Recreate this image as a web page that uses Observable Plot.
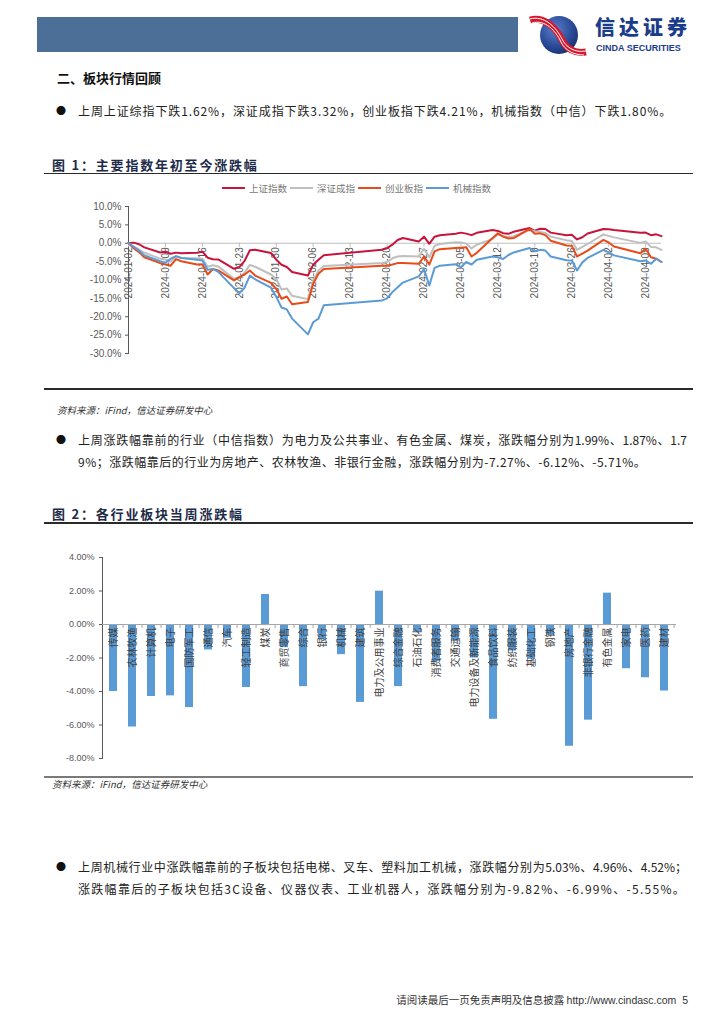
<!DOCTYPE html>
<html lang="zh-CN">
<head>
<meta charset="utf-8">
<script src="https://cdn.jsdelivr.net/npm/d3@7"></script>
<script src="https://cdn.jsdelivr.net/npm/@observablehq/plot@0.6"></script>
<style>
html,body{margin:0;padding:0;background:#fff;}
#page{position:relative;width:724px;height:1024px;overflow:hidden;font-family:"Noto Sans CJK SC","Noto Sans",sans-serif;color:#111;}
.a{position:absolute;white-space:nowrap;}
.body{font-size:12px;line-height:22px;color:#222;}
.bullet{font-size:10px;line-height:22px;color:#111;}
.figt{font-size:13px;line-height:16px;font-weight:700;color:#1d2b48;letter-spacing:1.8px;}
.src{font-size:9.5px;line-height:12px;font-style:italic;color:#333;}
.rule{position:absolute;left:44px;width:649px;height:1.5px;background:#2a2a2a;}
.legend{display:flex;align-items:center;font-size:9.5px;line-height:12px;color:#777;}
.legend .sw{display:inline-block;width:23px;height:2.5px;margin-right:4px;}
.legend .lb{display:inline-block;width:38px;margin-right:3px;}
.just{text-align:justify;text-align-last:justify;}
</style>
</head>
<body>
<div id="page">
  <div class="a" style="left:37px;top:17px;width:481px;height:35px;background:#4b6f97;"></div>
  <svg class="a" style="left:526px;top:14px" width="62" height="42" viewBox="0 0 62 42">
    <defs>
      <radialGradient id="lg" cx="0.4" cy="0.35" r="0.75">
        <stop offset="0" stop-color="#5b7fc8"/><stop offset="0.6" stop-color="#2a4a98"/><stop offset="1" stop-color="#142a66"/>
      </radialGradient>
    </defs>
    <circle cx="33" cy="21" r="19" fill="url(#lg)"/>
    <path d="M4,6 C18,2 30,14 36,26 C40,34 48,40 60,38" fill="none" stroke="#d7192f" stroke-width="7"/>
    <path d="M4,5 C18,1 30,13 36,25 C40,33 48,39 60,37" fill="none" stroke="#fff" stroke-width="1"/>
    <path d="M6,9 C19,5 30,17 35,28 C39,36 47,41 58,41" fill="none" stroke="#fff" stroke-width="1"/>
  </svg>
  <div class="a" style="left:595px;top:15px;font-size:20px;line-height:24px;font-weight:900;color:#1b3c8a;letter-spacing:4px;">信达证券</div>
  <div class="a" style="left:596px;top:43px;font-family:'Liberation Sans',Arial,sans-serif;font-size:9px;line-height:10px;font-weight:700;color:#1b3c8a;">CINDA SECURITIES</div>

  <div class="a" style="left:57px;top:69px;font-size:13px;line-height:18px;font-weight:700;">二、板块行情回顾</div>
  <div class="a bullet" style="left:56px;top:100px;">●</div>
  <div class="a body" style="left:78px;top:100px;letter-spacing:0.9px;">上周上证综指下跌1.62%，深证成指下跌3.32%，创业板指下跌4.21%，机械指数（中信）下跌1.80%。</div>

  <div class="a figt" style="left:52px;top:157px;">图 1：主要指数年初至今涨跌幅</div>
  <div class="rule" style="top:172.5px;"></div>
  <div class="a legend" id="legend1" style="left:222px;top:182px;"></div>
  <div class="a" id="chart1" style="left:44px;top:196px;"></div>
  <div class="rule" style="top:388px;"></div>
  <div class="a src" style="left:57px;top:404px;">资料来源：iFind，信达证券研发中心</div>

  <div class="a bullet" style="left:56px;top:429px;">●</div>
  <div class="a body" style="left:78px;top:429px;white-space:normal;">
    <div class="just" style="width:609px;">上周涨跌幅靠前的行业（中信指数）为电力及公共事业、有色金属、煤炭，涨跌幅分别为1.99%、1.87%、1.7</div>
    <div style="white-space:nowrap;letter-spacing:0.5px;">9%；涨跌幅靠后的行业为房地产、农林牧渔、非银行金融，涨跌幅分别为-7.27%、-6.12%、-5.71%。</div>
  </div>

  <div class="a figt" style="left:52px;top:506px;">图 2：各行业板块当周涨跌幅</div>
  <div class="rule" style="top:522px;"></div>
  <div class="a" id="chart2" style="left:44px;top:540px;"></div>
  <div class="rule" style="top:776px;background:#7a7a7a;"></div>
  <div class="a src" style="left:52px;top:778px;">资料来源：iFind，信达证券研发中心</div>

  <div class="a bullet" style="left:56px;top:856px;">●</div>
  <div class="a body" style="left:78px;top:856px;white-space:normal;">
    <div class="just" style="width:609px;">上周机械行业中涨跌幅靠前的子板块包括电梯、叉车、塑料加工机械，涨跌幅分别为5.03%、4.96%、4.52%；</div>
    <div style="white-space:nowrap;letter-spacing:1.3px;">涨跌幅靠后的子板块包括3C设备、仪器仪表、工业机器人，涨跌幅分别为-9.82%、-6.99%、-5.55%。</div>
  </div>

  <div class="a" style="right:36px;top:992px;font-size:10.5px;line-height:16px;color:#333;">请阅读最后一页免责声明及信息披露 <span style="font-family:'Liberation Sans',Arial,sans-serif;">http://www.cindasc.com&nbsp;&nbsp;5</span></div>
</div>

<script>
// ---------- Figure 1 data: YTD change (%) ----------
const tradeDates = [
  "2024-01-02","2024-01-03","2024-01-04","2024-01-05",
  "2024-01-08","2024-01-09","2024-01-10","2024-01-11","2024-01-12",
  "2024-01-15","2024-01-16","2024-01-17","2024-01-18","2024-01-19",
  "2024-01-22","2024-01-23","2024-01-24","2024-01-25","2024-01-26",
  "2024-01-29","2024-01-30","2024-01-31","2024-02-01","2024-02-02",
  "2024-02-05","2024-02-06","2024-02-07","2024-02-08",
  "2024-02-19","2024-02-20","2024-02-21","2024-02-22","2024-02-23",
  "2024-02-26","2024-02-27","2024-02-28","2024-02-29","2024-03-01",
  "2024-03-04","2024-03-05","2024-03-06","2024-03-07","2024-03-08",
  "2024-03-11","2024-03-12","2024-03-13","2024-03-14","2024-03-15",
  "2024-03-18","2024-03-19","2024-03-20","2024-03-21","2024-03-22",
  "2024-03-25","2024-03-26","2024-03-27","2024-03-28","2024-03-29",
  "2024-04-01","2024-04-02","2024-04-03",
  "2024-04-08","2024-04-09","2024-04-10","2024-04-11","2024-04-12"
];
const shIndex = [
  0, 0.17, -0.27, -1.12,
  -2.52, -2.33, -2.86, -2.55, -2.71,
  -2.57, -2.30, -3.93, -4.34, -4.39,
  -6.95, -6.47, -4.78, -1.90, -1.76,
  -2.66, -4.45, -5.86, -6.46, -7.84,
  -8.78, -5.83, -4.48, -3.25,
  -1.75, -1.34, -0.38, 0.88, 1.44,
  0.50, 1.80, -0.15, 1.79, 2.19,
  2.60, 2.89, 2.62, 2.20, 2.83,
  3.58, 3.36, 2.75, 2.56, 3.12,
  4.14, 3.39, 3.96, 3.88, 2.89,
  2.16, 2.34, 1.04, 1.63, 2.66,
  3.88, 3.80, 3.61,
  2.86, 2.91, 2.20, 2.43, 1.93
];
const szIndex = [
  0, -0.9, -1.7, -2.6,
  -4.2, -4.4, -5.0, -3.6, -4.0,
  -4.1, -4.2, -6.4, -6.0, -6.3,
  -9.7, -9.3, -8.0, -5.9, -6.4,
  -8.5, -9.8, -12.6, -12.3, -14.3,
  -15.2, -10.2, -7.4, -6.2,
  -5.4, -5.1, -4.1, -3.6, -3.5,
  -3.6, -1.5, -3.8, -0.7, -0.2,
  0.3, 0.2, -0.1, -1.4, -0.4,
  1.2, 2.4, 1.9, 1.7, 1.9,
  3.6, 3.3, 3.1, 2.8, 1.8,
  0.8, 0.6, -1.8, -1.0, -0.2,
  2.4, 2.0, 1.6,
  0.1, 0.5, -1.0, -1.1, -1.8
];
const cyIndex = [
  0, -1.4, -2.4, -3.8,
  -5.4, -5.8, -6.1, -4.3, -4.9,
  -5.8, -5.8, -8.5, -7.0, -7.4,
  -10.1, -9.2, -8.5, -7.4, -8.8,
  -10.8, -12.4, -15.1, -14.5, -16.6,
  -16.0, -11.0, -8.3, -7.0,
  -6.1, -6.1, -5.8, -5.4, -5.4,
  -5.6, -3.6, -5.8, -2.2, -1.6,
  -1.3, -1.2, -1.1, -3.6, -2.6,
  1.4, 2.7, 1.8, 1.3, 1.4,
  3.9, 2.6, 2.7, 2.2, 0.7,
  -0.6, -0.7, -3.6, -2.8, -2.0,
  0.9, 0.2, -0.9,
  -2.7, -1.5, -3.8, -4.2, -5.1
];
const jxIndex = [
  0, -1.0, -2.0, -3.3,
  -4.9, -5.3, -4.2, -3.5, -4.0,
  -4.5, -4.7, -7.2, -7.0, -7.8,
  -12.2, -13.6, -12.1, -8.8, -9.8,
  -12.1, -14.6, -17.5, -18.0, -20.5,
  -24.8, -21.5, -20.5, -16.9,
  -15.6, -15.0, -13.3, -12.0, -10.7,
  -9.0, -7.0, -11.5, -6.7, -6.1,
  -5.7, -6.5, -5.1, -5.8, -4.5,
  -3.6, -3.8, -4.3, -3.2, -2.5,
  -1.3, -2.2, -1.8, -2.0, -3.6,
  -4.6, -4.7, -7.4, -5.2, -4.0,
  -1.8, -2.5, -3.3,
  -4.9, -4.7, -5.6, -4.2, -5.1
];
const seriesNames = ["上证指数", "深证成指", "创业板指", "机械指数"];
const seriesColors = ["#c8143c", "#bfbfbf", "#e84b1a", "#5b9bd5"];
const weekTicks = [
  "2024-01-02","2024-01-09","2024-01-16","2024-01-23","2024-01-30",
  "2024-02-06","2024-02-13","2024-02-20","2024-02-27","2024-03-05",
  "2024-03-12","2024-03-19","2024-03-26","2024-04-02","2024-04-09"
];
const yTicks1 = [10, 5, 0, -5, -10, -15, -20, -25, -30];

// ---------- Figure 2 data: weekly change by industry (%) ----------
const industries = ["传媒","农林牧渔","计算机","电子","国防军工","通信","汽车","轻工制造","煤炭","商贸零售",
  "综合","银行","机械","建筑","电力及公用事业","综合金融","石油石化","消费者服务","交通运输","电力设备及新能源",
  "食品饮料","纺织服装","基础化工","钢铁","房地产","非银行金融","有色金属","家电","医药","建材"];
const weeklyChange = [-4.00,-6.12,-4.30,-4.26,-4.96,-1.52,-0.82,-3.76,1.79,-1.38,
  -3.71,-0.90,-1.80,-4.65,1.99,-3.71,-0.45,-2.20,-1.00,-2.00,
  -5.66,-1.58,-2.08,-0.64,-7.27,-5.71,1.87,-2.64,-3.18,-3.97];
const yTicks2 = [4, 2, 0, -2, -4, -6, -8];

// ---------- build ----------
const parse = d3.utcParse("%Y-%m-%d");
const fmt = d3.utcFormat("%Y-%m-%d");
const seriesValues = [shIndex, szIndex, cyIndex, jxIndex];
const lineData = seriesNames.flatMap((name, s) =>
  tradeDates.map((d, i) => ({date: parse(d), value: seriesValues[s][i], series: name})));
const tickDates = weekTicks.map(parse);

// legend
const legend = document.getElementById("legend1");
seriesNames.forEach((n, i) => {
  const sw = document.createElement("span"); sw.className = "sw"; sw.style.background = seriesColors[i];
  const lb = document.createElement("span"); lb.className = "lb"; lb.textContent = n;
  legend.appendChild(sw); legend.appendChild(lb);
});

const chart1 = Plot.plot({
  width: 650, height: 190,
  marginLeft: 84, marginRight: 33, marginTop: 10, marginBottom: 33,
  style: {fontFamily: "'Liberation Sans', Arial, sans-serif", fontSize: "10px", color: "#595959", background: "transparent", overflow: "visible"},
  x: {type: "utc", domain: [parse(tradeDates[0]), parse(tradeDates[tradeDates.length - 1])], axis: null},
  y: {domain: [-30, 10], ticks: yTicks1, tickFormat: d => d.toFixed(1) + "%", tickSize: 3, tickPadding: 4, line: true, label: null},
  color: {domain: seriesNames, range: seriesColors},
  marks: [
    Plot.ruleY([0], {stroke: "#bfbfbf", strokeWidth: 1}),
    Plot.ruleX(tickDates, {x: d => d, y1: () => 0, y2: () => 0, insetBottom: -4, stroke: "#bfbfbf"}),
    Plot.text(tickDates, {x: d => d, y: () => 0, text: d => fmt(d), rotate: -90, textAnchor: "end", dy: 4, fill: "#595959", fontSize: 10}),
    Plot.lineY(lineData, {x: "date", y: "value", stroke: "series", z: "series", strokeWidth: 2})
  ]
});
document.getElementById("chart1").appendChild(chart1);

const barData = industries.map((name, i) => ({name, value: weeklyChange[i]}));
const W2 = 650, ML2 = 58, MR2 = 18;
const xBand = Plot.scale({x: {type: "band", domain: industries, range: [ML2, W2 - MR2], paddingInner: 0.56, paddingOuter: 0.28}});
const step = xBand.step || (W2 - ML2 - MR2) / industries.length;

const chart2 = Plot.plot({
  width: W2, height: 232,
  marginLeft: ML2, marginRight: MR2, marginTop: 17, marginBottom: 14,
  style: {fontFamily: "'Liberation Sans', Arial, sans-serif", fontSize: "9px", color: "#595959", background: "transparent", overflow: "visible"},
  x: {type: "band", domain: industries, paddingInner: 0.56, paddingOuter: 0.28, axis: null},
  y: {domain: [-8, 4], ticks: yTicks2, tickFormat: d => d.toFixed(2) + "%", tickSize: 3, tickPadding: 5, line: true, label: null},
  marks: [
    Plot.barY(barData, {x: "name", y: "value", fill: "#5b9bd5"}),
    Plot.ruleY([0], {stroke: "#a6a6a6"}),
    Plot.ruleX(industries, {x: d => d, y1: () => 0, y2: () => 0, insetBottom: -4, dx: step / 2, stroke: "#a6a6a6"}),
    Plot.text(barData, {x: "name", y: () => 0, text: "name", rotate: -90, textAnchor: "end", dy: 3, fontSize: 10, fill: "#404040", fontFamily: "'Noto Sans CJK SC', sans-serif"})
  ]
});
document.getElementById("chart2").appendChild(chart2);
</script>
</body>
</html>
